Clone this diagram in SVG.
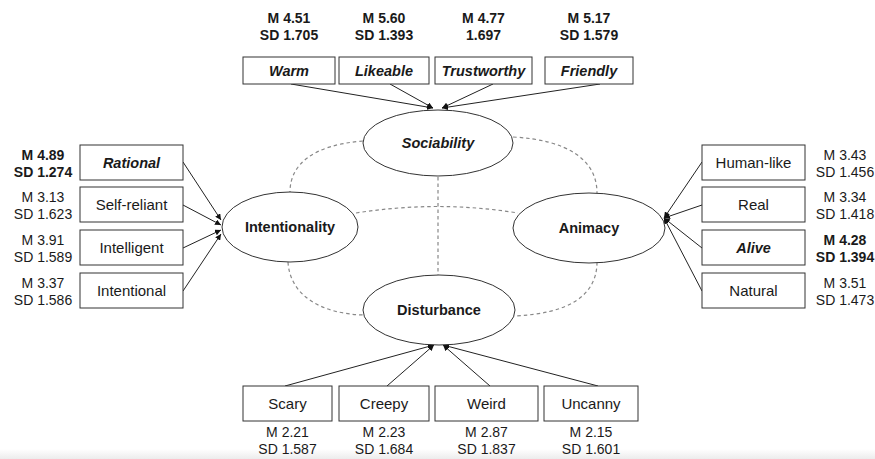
<svg xmlns="http://www.w3.org/2000/svg" width="875" height="459" viewBox="0 0 875 459">
<style>
text{font-family:"Liberation Sans",Arial,sans-serif;fill:#1a1a1a;text-anchor:middle}
.box{fill:#fff;stroke:#333;stroke-width:1}
.ell{fill:#fff;stroke:#333;stroke-width:1}
.lbl{font-size:15px}
.bi{font-size:14.5px;font-weight:bold;font-style:italic}
.b{font-size:14.5px;font-weight:bold}
.num{font-size:14px}
.numb{font-size:14px;font-weight:bold}
.arr{stroke:#222;stroke-width:1;fill:none;marker-end:url(#ah)}
.dash{stroke:#888;stroke-width:1.2;fill:none;stroke-dasharray:3.5 3}
</style>
<defs>
<marker id="ah" markerUnits="userSpaceOnUse" markerWidth="7" markerHeight="6" refX="6" refY="3" orient="auto">
<path d="M0,0 L6,3 L0,6 z" fill="#111"/>
</marker>
<linearGradient id="sh" x1="0" y1="0" x2="0" y2="1">
<stop offset="0" stop-color="#fff"/>
<stop offset="1" stop-color="#ececec"/>
</linearGradient>
</defs>
<rect width="875" height="459" fill="#fff"/>
<rect x="0" y="449" width="875" height="10" fill="url(#sh)"/>

<g id="connectors">
<path class="dash" d="M363,141 C312,145 290,165 290,192"/>
<path class="dash" d="M513,137 C568,140 597,160 597,193"/>
<path class="dash" d="M438,177 L438,275"/>
<path class="dash" d="M356,213 Q438,200 518,213"/>
<path class="dash" d="M288,262 C290,296 322,314 364,315"/>
<path class="dash" d="M597,262 C597,296 568,314 513,316"/>
<path class="arr" d="M291,84 L433,108"/>
<path class="arr" d="M390,84 L433,108"/>
<path class="arr" d="M493,84 L442,108"/>
<path class="arr" d="M600,84 L442,108"/>
<path class="arr" d="M183,162 L221,220"/>
<path class="arr" d="M183,205 L221,225"/>
<path class="arr" d="M183,248 L221,230"/>
<path class="arr" d="M183,291 L221,234"/>
<path class="arr" d="M702,162 L664,218"/>
<path class="arr" d="M702,205 L664,218"/>
<path class="arr" d="M702,248 L664,218"/>
<path class="arr" d="M702,291 L664,218"/>
<path class="arr" d="M285,386 L434,345"/>
<path class="arr" d="M387,386 L434,345"/>
<path class="arr" d="M490,386 L443,345"/>
<path class="arr" d="M598,386 L443,345"/>
</g>

<g id="sociability"><ellipse class="ell" cx="438" cy="143" rx="75" ry="33"/><text class="bi" x="438" y="148">Sociability</text></g>
<g id="intentionality"><ellipse class="ell" cx="290" cy="227" rx="68" ry="35"/><text class="b" x="290" y="232">Intentionality</text></g>
<g id="animacy"><ellipse class="ell" cx="589" cy="228" rx="76" ry="35"/><text class="b" x="589" y="233">Animacy</text></g>
<g id="disturbance"><ellipse class="ell" cx="439" cy="310" rx="76" ry="35"/><text class="b" x="439" y="315">Disturbance</text></g>

<g id="warm"><rect class="box" x="243" y="57" width="92" height="27"/><text class="bi" x="289" y="76">Warm</text><text class="numb" x="289" y="23">M 4.51</text><text class="numb" x="289" y="40">SD 1.705</text></g>
<g id="likeable"><rect class="box" x="339" y="57" width="90" height="27"/><text class="bi" x="384" y="76">Likeable</text><text class="numb" x="384" y="23">M 5.60</text><text class="numb" x="384" y="40">SD 1.393</text></g>
<g id="trustworthy"><rect class="box" x="435" y="57" width="97" height="27"/><text class="bi" x="483.5" y="76">Trustworthy</text><text class="numb" x="483.5" y="23">M 4.77</text><text class="numb" x="483.5" y="40">1.697</text></g>
<g id="friendly"><rect class="box" x="545" y="57" width="88" height="27"/><text class="bi" x="589" y="76">Friendly</text><text class="numb" x="589" y="23">M 5.17</text><text class="numb" x="589" y="40">SD 1.579</text></g>

<g id="rational"><rect class="box" x="80" y="145" width="103" height="35"/><text class="bi" x="131.5" y="168">Rational</text><text class="numb" x="43" y="160">M 4.89</text><text class="numb" x="43" y="177">SD 1.274</text></g>
<g id="self-reliant"><rect class="box" x="80" y="187" width="103" height="35"/><text class="lbl" x="131.5" y="210">Self-reliant</text><text class="num" x="43" y="202">M 3.13</text><text class="num" x="43" y="219">SD 1.623</text></g>
<g id="intelligent"><rect class="box" x="80" y="230" width="103" height="35"/><text class="lbl" x="131.5" y="253">Intelligent</text><text class="num" x="43" y="245">M 3.91</text><text class="num" x="43" y="262">SD 1.589</text></g>
<g id="intentional"><rect class="box" x="80" y="273" width="103" height="35"/><text class="lbl" x="131.5" y="296">Intentional</text><text class="num" x="43" y="288">M 3.37</text><text class="num" x="43" y="305">SD 1.586</text></g>

<g id="human-like"><rect class="box" x="702" y="145" width="103" height="35"/><text class="lbl" x="753.5" y="168">Human-like</text><text class="num" x="845" y="160">M 3.43</text><text class="num" x="845" y="177">SD 1.456</text></g>
<g id="real"><rect class="box" x="702" y="187" width="103" height="35"/><text class="lbl" x="753.5" y="210">Real</text><text class="num" x="845" y="202">M 3.34</text><text class="num" x="845" y="219">SD 1.418</text></g>
<g id="alive"><rect class="box" x="702" y="230" width="103" height="35"/><text class="bi" x="753.5" y="253">Alive</text><text class="numb" x="845" y="245">M 4.28</text><text class="numb" x="845" y="262">SD 1.394</text></g>
<g id="natural"><rect class="box" x="702" y="273" width="103" height="35"/><text class="lbl" x="753.5" y="296">Natural</text><text class="num" x="845" y="288">M 3.51</text><text class="num" x="845" y="305">SD 1.473</text></g>

<g id="scary"><rect class="box" x="243" y="386" width="89" height="35"/><text class="lbl" x="287.5" y="409">Scary</text><text class="num" x="287.5" y="437">M 2.21</text><text class="num" x="287.5" y="454">SD 1.587</text></g>
<g id="creepy"><rect class="box" x="339" y="386" width="90" height="35"/><text class="lbl" x="384" y="409">Creepy</text><text class="num" x="384" y="437">M 2.23</text><text class="num" x="384" y="454">SD 1.684</text></g>
<g id="weird"><rect class="box" x="435" y="386" width="103" height="35"/><text class="lbl" x="486.5" y="409">Weird</text><text class="num" x="486.5" y="437">M 2.87</text><text class="num" x="486.5" y="454">SD 1.837</text></g>
<g id="uncanny"><rect class="box" x="544" y="386" width="94" height="35"/><text class="lbl" x="591" y="409">Uncanny</text><text class="num" x="591" y="437">M 2.15</text><text class="num" x="591" y="454">SD 1.601</text></g>
</svg>
